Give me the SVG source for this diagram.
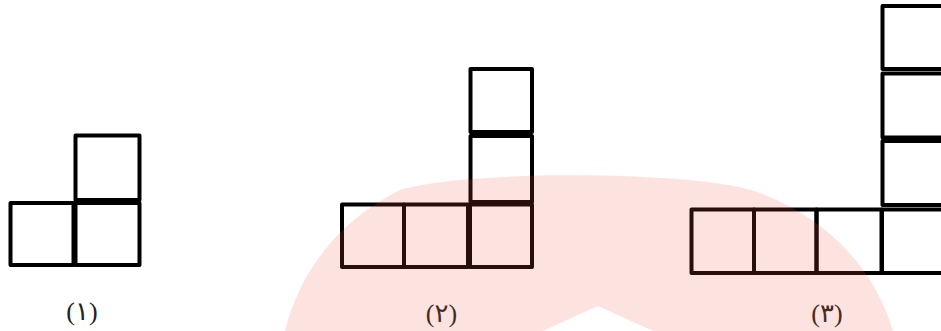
<svg xmlns="http://www.w3.org/2000/svg" width="941" height="331" viewBox="0 0 941 331">
  <style>
    .sq { fill: none; stroke: #000; stroke-width: 4; stroke-linejoin: round; }
    .lbl { font-family: "Liberation Serif", "DejaVu Sans", serif; font-size: 26px; fill: #222; text-anchor: middle; letter-spacing: 4px; }
    .wm { fill: #f25a44; fill-opacity: 0.17; }
  </style>
  <rect width="941" height="331" fill="#fff"/>
  <g id="figure1">
    <rect class="sq" x="75.5" y="135.5" width="64" height="64.5"/>
    <rect class="sq" x="75.5" y="203" width="64" height="62"/>
    <rect class="sq" x="10.5" y="203" width="63" height="62"/>
    <text class="lbl" x="82" y="320">(١)</text>
  </g>
  <g id="figure2">
    <rect class="sq" x="470.5" y="69" width="61.5" height="63"/>
    <rect class="sq" x="470.5" y="136" width="61.5" height="66"/>
    <rect class="sq" x="470" y="204.5" width="62" height="62.5"/>
    <rect class="sq" x="404" y="204.5" width="64" height="62.5"/>
    <rect class="sq" x="342" y="204.5" width="62" height="62.5"/>
    <text class="lbl" x="441.5" y="322">(٢)</text>
  </g>
  <g id="figure3">
    <rect class="sq" x="882.5" y="6" width="64" height="63"/>
    <rect class="sq" x="882.5" y="73.5" width="64" height="64"/>
    <rect class="sq" x="882.5" y="141" width="64" height="64"/>
    <rect class="sq" x="882" y="209.5" width="64" height="63.5"/>
    <rect class="sq" x="816.5" y="209.5" width="65" height="63.5"/>
    <rect class="sq" x="754" y="209.5" width="62.5" height="63.5"/>
    <rect class="sq" x="691.5" y="209.5" width="62.5" height="63.5"/>
    <text class="lbl" x="827" y="322">(٣)</text>
  </g>
  <g id="connectors"/>
  <path class="wm" d="M285,331 C300,270 340,220 400,190 C460,170 700,170 760,193 C830,220 875,270 893,331 L653,331 L598,306 L543,331 Z"/>
</svg>
